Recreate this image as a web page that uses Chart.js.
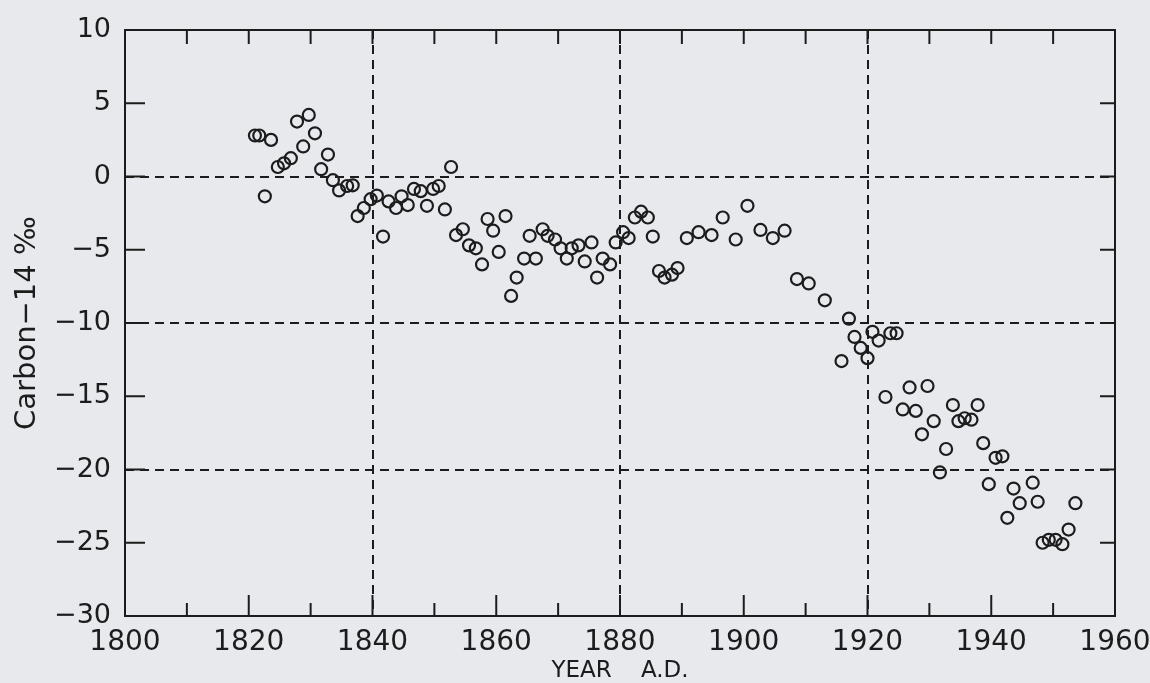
<!DOCTYPE html>
<html>
<head>
<meta charset="utf-8">
<title>Carbon-14 vs year</title>
<script src="https://cdn.jsdelivr.net/npm/chart.js@4.4.0/dist/chart.umd.min.js"></script>
<style>
  html, body { margin: 0; padding: 0; background: #e8e9ed; }
  #wrap { width: 1150px; height: 683px; }
</style>
</head>
<body>
<div id="wrap"><canvas id="c14Chart" width="1150" height="683"></canvas></div>
<script>
// values (year A.D., per mil)
const years = [
  1821.0, 1821.7, 1822.6, 1823.6, 1824.7, 1825.7, 1826.8, 1827.8, 1828.8, 1829.7,
  1830.7, 1831.7, 1832.8, 1833.6, 1834.6, 1835.9, 1836.8, 1837.6, 1838.6, 1839.7,
  1840.7, 1841.7, 1842.6, 1843.8, 1844.7, 1845.7, 1846.7, 1847.8, 1848.8, 1849.8,
  1850.7, 1851.7, 1852.7, 1853.5, 1854.6, 1855.6, 1856.7, 1857.7, 1858.6, 1859.5,
  1860.4, 1861.5, 1862.4, 1863.3, 1864.5, 1865.4, 1866.4, 1867.5, 1868.3, 1869.5,
  1870.4, 1871.4, 1872.2, 1873.3, 1874.3, 1875.4, 1876.3, 1877.2, 1878.4, 1879.3,
  1880.5, 1881.4, 1882.4, 1883.4, 1884.5, 1885.3, 1886.3, 1887.2, 1888.4, 1889.3,
  1890.8, 1892.7, 1894.8, 1896.6, 1898.7, 1900.6, 1902.7, 1904.7, 1906.6, 1908.6,
  1910.5, 1913.1, 1915.8, 1917.0, 1917.9, 1918.9, 1920.0, 1920.8, 1921.8, 1922.9,
  1923.7, 1924.7, 1925.7, 1926.8, 1927.8, 1928.8, 1929.7, 1930.7, 1931.7, 1932.7,
  1933.8, 1934.7, 1935.7, 1936.8, 1937.8, 1938.7, 1939.6, 1940.7, 1941.8, 1942.6,
  1943.6, 1944.6, 1946.7, 1947.5, 1948.3, 1949.3, 1950.4, 1951.5, 1952.5, 1953.6
];
const carbon14 = [
  2.8, 2.8, -1.35, 2.5, 0.65, 0.9, 1.25, 3.75, 2.05, 4.2,
  2.95, 0.5, 1.5, -0.25, -0.95, -0.65, -0.6, -2.7, -2.15, -1.55,
  -1.3, -4.1, -1.7, -2.15, -1.35, -1.95, -0.85, -1.0, -2.0, -0.85,
  -0.65, -2.25, 0.65, -4.0, -3.6, -4.7, -4.9, -6.0, -2.9, -3.7,
  -5.15, -2.7, -8.15, -6.9, -5.6, -4.05, -5.6, -3.6, -4.05, -4.3,
  -4.9, -5.6, -4.9, -4.7, -5.8, -4.5, -6.9, -5.6, -6.0, -4.5,
  -3.8, -4.2, -2.8, -2.4, -2.8, -4.1, -6.45, -6.9, -6.7, -6.25,
  -4.2, -3.8, -4.0, -2.8, -4.3, -2.0, -3.65, -4.2, -3.7, -7.0,
  -7.3, -8.45, -12.6, -9.7, -10.95, -11.7, -12.4, -10.6, -11.2, -15.05,
  -10.7, -10.7, -15.9, -14.4, -16.0, -17.6, -14.3, -16.7, -20.2, -18.6,
  -15.6, -16.7, -16.5, -16.6, -15.6, -18.2, -21.0, -19.2, -19.1, -23.3,
  -21.3, -22.3, -20.9, -22.2, -25.0, -24.8, -24.8, -25.1, -24.1, -22.3
];

// axes
const tickYears = [1810, 1820, 1830, 1840, 1850, 1860, 1870, 1880, 1890, 1900, 1910, 1920, 1930, 1940, 1950];
const tickValues = [5, 0, -5, -10, -15, -20, -25];
const dashedYears = [1840, 1880, 1920];
const dashedValues = [0, -10, -20];

const INK = '#1c1c1c';
const BG = '#e8e9ed';
const FONT = "'DejaVu Sans', 'Liberation Sans', sans-serif";

const points = years.map((yr, i) => ({ x: yr, y: carbon14[i] }));

// paper colour behind everything
const paper = {
  id: 'paper',
  beforeDraw(chart) {
    const { ctx, width, height } = chart;
    ctx.save();
    ctx.fillStyle = BG;
    ctx.fillRect(0, 0, width, height);
    ctx.restore();
  }
};

// box round the plot with inward tick marks
const frame = {
  id: 'frame',
  afterDatasetsDraw(chart) {
    const { ctx, chartArea: a, scales: { x, y } } = chart;
    ctx.save();
    ctx.strokeStyle = INK;
    ctx.lineWidth = 2;
    ctx.setLineDash([]);
    ctx.strokeRect(a.left, a.top, a.right - a.left, a.bottom - a.top);
    ctx.beginPath();
    tickYears.forEach(yr => {
      const px = x.getPixelForValue(yr);
      const len = yr % 20 === 0 ? 21 : 13;
      ctx.moveTo(px, a.bottom);
      ctx.lineTo(px, a.bottom - len);
      ctx.moveTo(px, a.top);
      ctx.lineTo(px, a.top + 14);
    });
    tickValues.forEach(v => {
      const py = y.getPixelForValue(v);
      ctx.moveTo(a.left, py);
      ctx.lineTo(a.left + 20, py);
      ctx.moveTo(a.right, py);
      ctx.lineTo(a.right - 15, py);
    });
    ctx.stroke();
    ctx.restore();
  }
};

const ctx = document.getElementById('c14Chart').getContext('2d');
new Chart(ctx, {
  type: 'scatter',
  data: {
    datasets: [{
      label: 'Carbon-14',
      data: points,
      pointStyle: 'circle',
      pointRadius: 6,
      pointBorderWidth: 2.2,
      pointBackgroundColor: 'rgba(0,0,0,0)',
      pointBorderColor: INK
    }]
  },
  options: {
    responsive: false,
    animation: false,
    layout: { padding: { top: 30, right: 35, left: 0, bottom: 0 } },
    plugins: {
      legend: { display: false },
      tooltip: { enabled: false }
    },
    scales: {
      x: {
        type: 'linear',
        min: 1800,
        max: 1960,
        afterFit: s => { s.height = 67; s.paddingLeft = 0; s.paddingRight = 0; },
        ticks: {
          stepSize: 20,
          padding: 10,
          color: INK,
          font: { family: FONT, size: 28 },
          callback: v => String(v)
        },
        grid: {
          drawTicks: false,
          lineWidth: 2,
          color: c => dashedYears.includes(c.tick && c.tick.value) ? INK : 'rgba(0,0,0,0)'
        },
        border: { display: false, dash: [9, 6] },
        title: {
          display: true,
          text: 'YEAR    A.D.',
          color: INK,
          padding: { top: 0, bottom: 0 },
          font: { family: FONT, size: 23, lineHeight: 1 }
        }
      },
      y: {
        type: 'linear',
        min: -30,
        max: 10,
        afterFit: s => { s.width = 125; s.paddingTop = 0; s.paddingBottom = 0; },
        ticks: {
          stepSize: 5,
          padding: 14,
          color: INK,
          font: { family: FONT, size: 27 },
          callback: v => String(v).replace('-', '\u2212')
        },
        grid: {
          drawTicks: false,
          lineWidth: 2,
          color: c => dashedValues.includes(c.tick && c.tick.value) ? INK : 'rgba(0,0,0,0)'
        },
        border: { display: false, dash: [9, 6] },
        title: {
          display: true,
          text: 'Carbon\u221214 \u2030',
          color: INK,
          padding: { top: 10, bottom: 0 },
          font: { family: FONT, size: 29 }
        }
      }
    }
  },
  plugins: [paper, frame]
});
</script>
</body>
</html>
